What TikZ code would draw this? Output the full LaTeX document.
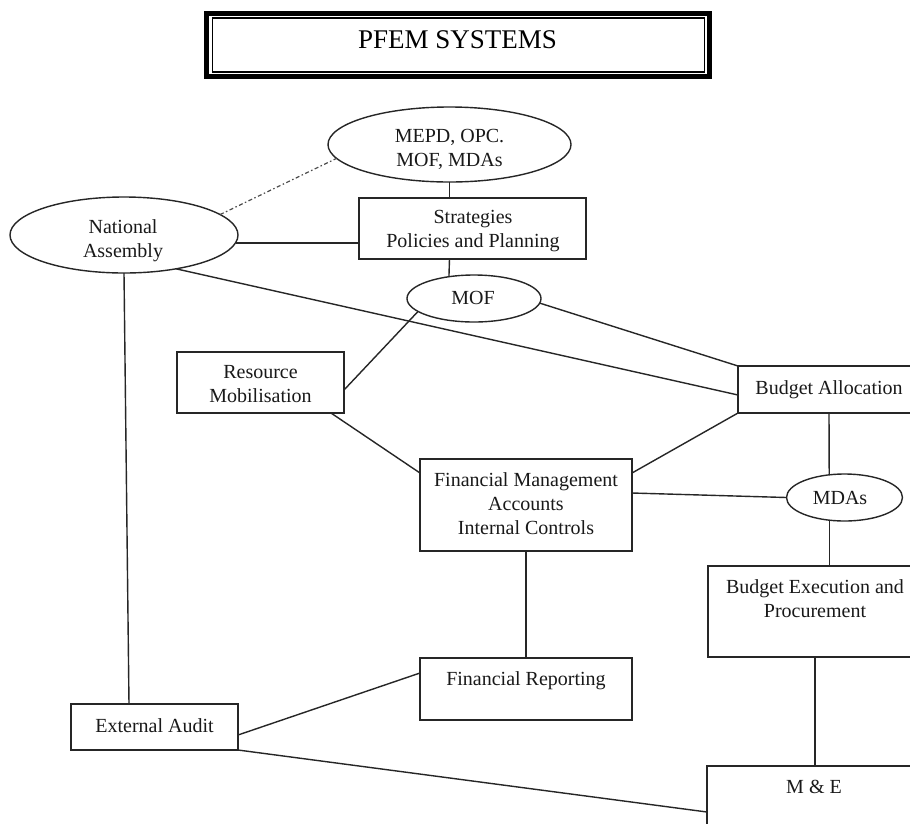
\documentclass[tikz,border=0pt]{standalone}
\usepackage{fontspec}
\setmainfont{Liberation Serif}
\usetikzlibrary{shapes.geometric,calc}
\begin{document}
\begin{tikzpicture}[x=1pt,y=-1pt,
  conn/.style={line width=1.4pt,black!85},
  dashconn/.style={line width=1.2pt,black!70,dash pattern=on 4pt off 2.5pt on 1.5pt off 2.5pt},
  box/.style={draw=black!85,line width=1.4pt,rectangle,inner sep=0pt,outer sep=0pt,anchor=north west},
  oval/.style={draw=black!85,line width=1.4pt,ellipse,inner sep=0pt,outer sep=0pt},
  lbl/.style={font=\fontsize{20}{24}\selectfont,align=center,inner sep=0pt,text=black!90}]
\useasboundingbox (0,0) rectangle (910,823);
\fill[white] (0,0) rectangle (910,823);
\clip (0,0) rectangle (910,823);

% title
\node[draw,line width=5pt,rectangle,minimum width=503pt,minimum height=63pt,inner sep=0pt,outer sep=0pt] (titleframe) at (458,45) {};
\node[draw,line width=1.5pt,rectangle,minimum width=492pt,minimum height=54pt,inner sep=0pt,outer sep=0pt] (titleinner) at (458.5,45) {};
\node[font=\fontsize{27}{32}\selectfont,inner sep=0pt] (titletext) at (457.5,40) {PFEM SYSTEMS};

% ellipses
\node[oval,minimum width=243pt,minimum height=75pt] (mepd) at (449.5,144.5) {};
\node[lbl] (mepdt) at (449.5,149.5) {MEPD, OPC.\\MOF, MDAs};
\node[oval,minimum width=228pt,minimum height=76pt] (na) at (124,235) {};
\node[lbl] (nat) at (123,241) {National\\Assembly};
\node[oval,minimum width=134pt,minimum height=47pt] (mof) at (474,298.5) {};
\node[lbl] (moft) at (473,298) {MOF};
\node[oval,minimum width=116pt,minimum height=47pt] (mdas) at (844.5,497.5) {};
\node[lbl] (mdast) at (840,498) {MDAs};

% boxes
\node[box,minimum width=227pt,minimum height=61pt] (strat) at (359,198) {};
\node[lbl] (stratt) at (473,231.5) {Strategies\\Policies and Planning};
\node[box,minimum width=167pt,minimum height=61pt] (rm) at (177,352) {};
\node[lbl] (rmt) at (260.5,384.5) {Resource\\Mobilisation};
\node[box,minimum width=182pt,minimum height=47pt] (ba) at (738,366) {};
\node[lbl] (bat) at (829,389.5) {Budget Allocation};
\node[box,minimum width=212pt,minimum height=92pt] (fm) at (420,459) {};
\node[lbl] (fmt) at (526,504) {Financial Management\\Accounts\\Internal Controls};
\node[box,minimum width=214pt,minimum height=91pt] (be) at (708,566) {};
\node[lbl] (bet) at (815,599) {Budget Execution and\\Procurement};
\node[box,minimum width=212pt,minimum height=62pt] (fr) at (420,658) {};
\node[lbl] (frt) at (526,681) {Financial Reporting};
\node[box,minimum width=167pt,minimum height=46pt] (ea) at (71,704) {};
\node[lbl] (eat) at (154.5,725.5) {External Audit};
\node[box,minimum width=214pt,minimum height=90pt] (me) at (707,766) {};
\node[lbl] (met) at (814,787) {M \& E};

% connectors
\draw[dashconn] (na.12.6) -- (mepd.187.6);
\draw[conn] (na.-4) -- (na.-4 -| strat.west);
\draw[conn] (mepd.south) -- (mepd.south |- strat.north);
\draw[conn] (strat.south -| mepd.south) -- (mof.139);
\draw[conn] (na.-33) -- ($(ba.west)+(0,5.5)$);
\draw[conn] (mof.-4) -- (ba.north west);
\draw[conn] (mof.193) -- ($(rm.east)+(0,7.5)$);
\draw[conn] ($(rm.south east)+(-13,0)$) -- ($(fm.north west)+(0,14)$);
\draw[conn] (ba.south west) -- ($(fm.north east)+(0,14)$);
\draw[conn] ($(fm.north east)+(0,34)$) -- (mdas.west);
\draw[conn] (ba.south) -- (mdas.124);
\draw[conn] (mdas.236) -- (mdas.236 |- be.north);
\draw[conn] (fm.south) -- (fm.south |- fr.north);
\draw[conn] (na.south) -- ($(ea.north west)+(58,0)$);
\draw[conn] ($(ea.north east)+(0,31)$) -- ($(fr.north west)+(0,15)$);
\draw[conn] (ea.south east) -- ($(me.north west)+(0,46)$);
\draw[conn] (be.south) -- (be.south |- me.north);
\end{tikzpicture}
\end{document}
